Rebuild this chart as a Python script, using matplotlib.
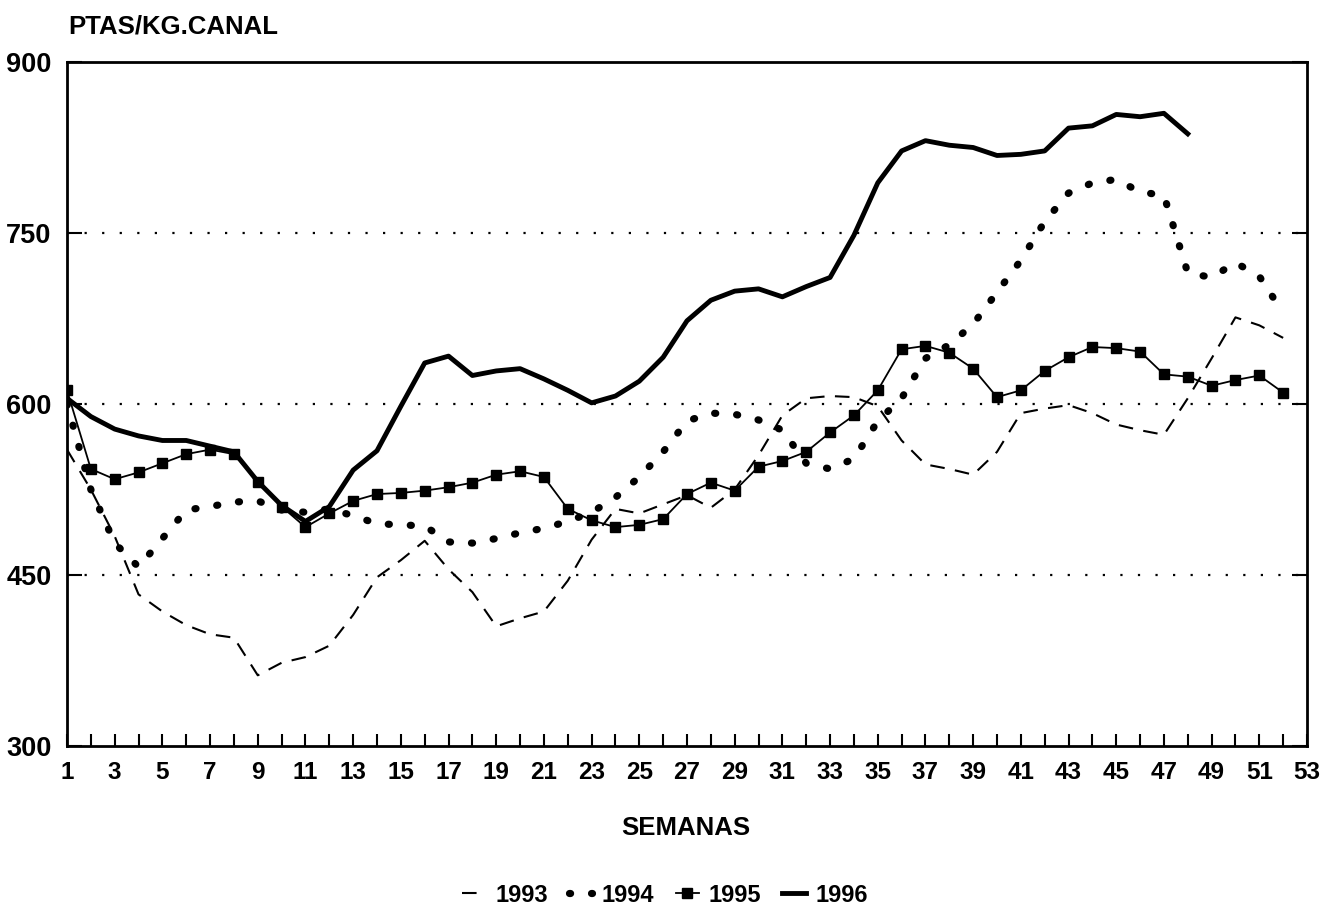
import matplotlib
matplotlib.use("Agg")
import matplotlib.pyplot as plt

# semanas y precios (ptas/kg canal)
weeks = list(range(1, 53))
years = ["1993", "1994", "1995", "1996"]

p1993 = [560, 525, 484, 433, 418, 406, 398, 395, 362, 373,
         378, 388, 415, 448, 463, 480, 455, 435, 405, 412,
         418, 445, 481, 508, 504, 512, 520, 509, 525, 555,
         590, 605, 607, 606, 598, 568, 547, 543, 538, 558,
         592, 596, 599, 592, 582, 577, 573, 605, 640, 676,
         669, 658]
p1994 = [600, 525, 478, 457, 482, 507, 510, 514, 515, 507,
         505, 508, 502, 495, 494, 493, 479, 478, 482, 487,
         491, 497, 505, 518, 536, 558, 585, 592, 591, 586,
         577, 548, 543, 552, 585, 605, 640, 652, 670, 698,
         726, 760, 785, 794, 797, 786, 783, 715, 711, 724,
         712, 680]
p1995 = [612, 543, 534, 540, 548, 556, 560, 556, 532, 510,
         492, 504, 515, 521, 522, 524, 527, 531, 538, 541,
         536, 508, 498, 492, 494, 499, 521, 531, 524, 545,
         550, 558, 575, 590, 612, 648, 651, 645, 631, 606,
         612, 629, 641, 650, 649, 646, 626, 624, 616, 621,
         625, 610]
p1996 = [605, 589, 578, 572, 568, 568, 563, 558, 532, 511,
         497, 510, 542, 559, 598, 636, 642, 625, 629, 631,
         622, 612, 601, 607, 620, 641, 673, 691, 699, 701,
         694, 703, 711, 748, 794, 822, 831, 827, 825, 818,
         819, 822, 842, 844, 854, 852, 855, 837]

plt.rcParams['font.family'] = ['Liberation Sans', 'DejaVu Sans']
plt.rcParams['font.weight'] = 'bold'

fig = plt.figure(figsize=(13.26, 9.09), dpi=100)
ax = fig.add_axes([67/1326, 1 - 746/909, (1307 - 67)/1326, (746 - 62)/909])

for g in [450, 600, 750]:
    ax.axhline(g, color='black', lw=1.6, dashes=(1, 6.9), zorder=1)

l93, = ax.plot(weeks, p1993, color='black', lw=1.5, dashes=(7, 5), zorder=2)
l94, = ax.plot(weeks, p1994, color='black', lw=5.2, dashes=(0.15, 2.9),
               dash_capstyle='round', zorder=2)
l95, = ax.plot(weeks, p1995, color='black', lw=1.3, marker='s', ms=7, zorder=3)
l96, = ax.plot(weeks[:len(p1996)], p1996, color='black', lw=3.5, zorder=4)

ax.set_xlim(1, 53)
ax.set_ylim(300, 900)
ax.set_xticks(range(1, 54, 2))
ax.set_xticks(range(2, 53, 2), minor=True)
ax.set_yticks([300, 450, 600, 750, 900])
ax.tick_params(axis='x', which='both', direction='in', length=9, width=1.5,
               labelsize=17.5, pad=11)
ax.tick_params(axis='y', direction='in', length=11, width=1.5, right=True,
               labelsize=19.5, pad=11)
for s in ax.spines.values():
    s.set_linewidth(2)

fig.text(68/1326, 1 - 34/909, 'PTAS/KG.CANAL', fontsize=18.5, weight='bold',
         va='baseline')
fig.text(686/1326, 1 - 828/909, 'SEMANAS', fontsize=18.5, weight='bold',
         ha='center', va='center')

fig.legend([l93, l94, l95, l96], years, loc='center',
           bbox_to_anchor=(665/1326, 1 - 895/909), ncol=4, frameon=False,
           fontsize=17, handlelength=1.0, columnspacing=0.9,
           handletextpad=0.4, numpoints=1)

fig.savefig('out.png', dpi=100)
